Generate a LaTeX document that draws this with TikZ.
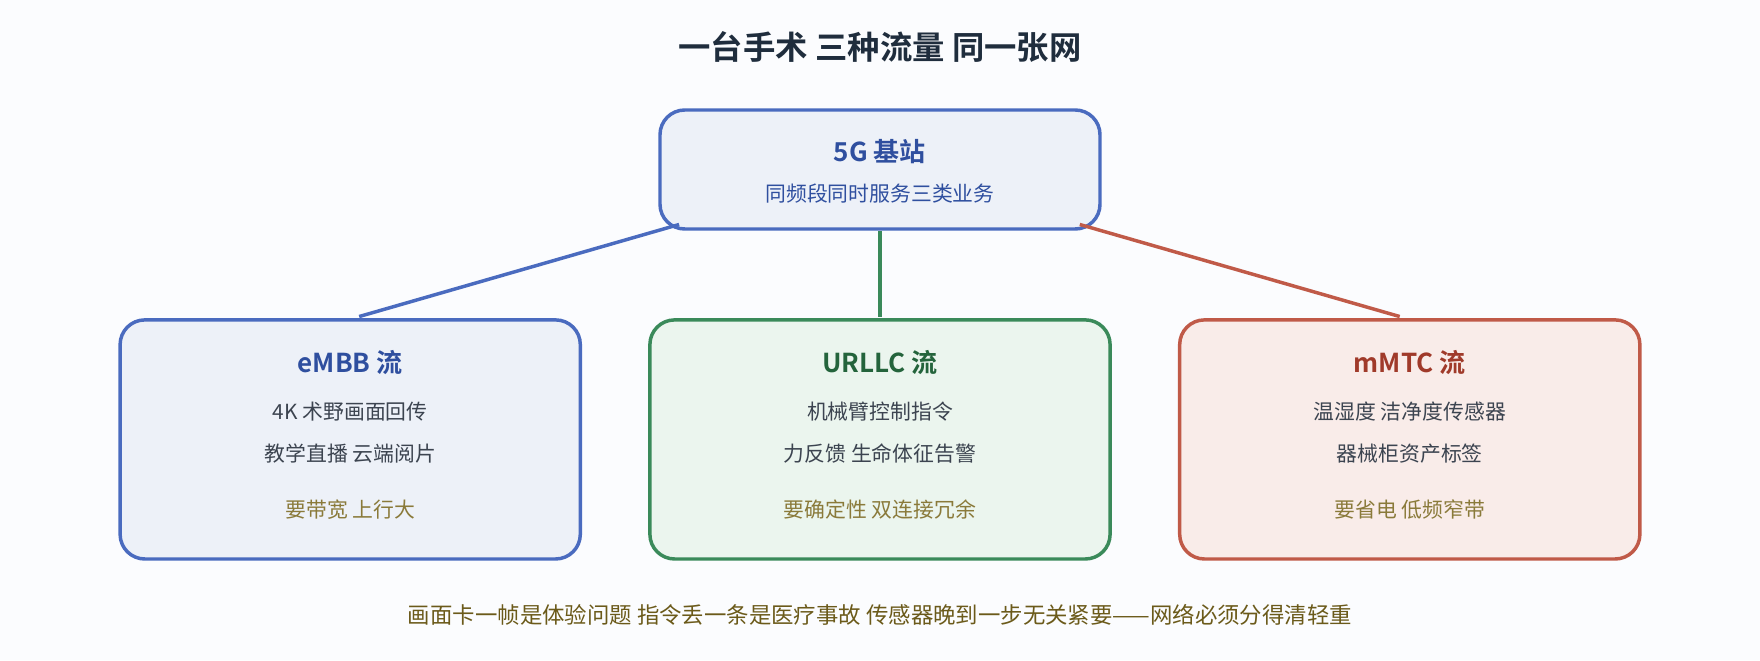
\documentclass[tikz,border=0pt]{standalone}
\usepackage{fontspec}
\setmainfont{Noto Sans CJK SC}[BoldFont={Noto Sans CJK SC Bold}]
\usetikzlibrary{positioning}
\definecolor{bgcol}{HTML}{FBFCFE}
\definecolor{titlecol}{HTML}{1F2D3D}
\definecolor{blueline}{HTML}{4A6BBF}
\definecolor{bluefill}{HTML}{EDF1F8}
\definecolor{bluetext}{HTML}{2F4F9F}
\definecolor{greenline}{HTML}{3A8A5A}
\definecolor{greenfill}{HTML}{EBF5EE}
\definecolor{greentext}{HTML}{24643C}
\definecolor{redline}{HTML}{C05A48}
\definecolor{redfill}{HTML}{F9ECE9}
\definecolor{redtext}{HTML}{A03A2A}
\definecolor{bodytext}{HTML}{3C4450}
\definecolor{notetext}{HTML}{8A7A3A}
\definecolor{foottext}{HTML}{6B5A1A}
\tikzset{
  box/.style={rounded corners=0.55cm, line width=2.2pt, inner sep=0pt},
  head/.style={font=\bfseries\fontsize{16.5}{19}\selectfont},
  body/.style={text=bodytext, font=\fontsize{13.2}{15}\selectfont},
  note/.style={text=notetext, font=\fontsize{13.2}{15}\selectfont},
  link/.style={line width=2.2pt}
}
\begin{document}
\begin{tikzpicture}[x=0.025cm,y=-0.025cm]
  \fill[bgcol] (0,0) rectangle (1568,588);
  \useasboundingbox (0,0) rectangle (1568,588);
  \node[text=titlecol, font=\bfseries\fontsize{20.5}{24}\selectfont] (title) at (784,42) {一台手术 三种流量 同一张网};
  % base station
  \draw[box, draw=blueline, fill=bluefill] (588,98) rectangle (980,204);
  \node[head, text=bluetext] (bs) at (784,135) {5G 基站};
  \node[text=bluetext, font=\fontsize{13.2}{15}\selectfont] (bssub) at (784,172) {同频段同时服务三类业务};
  \coordinate (bsL) at (605,200);
  \coordinate (bsM) at (784,206);
  \coordinate (bsR) at (962,200);
  % three flows
  \draw[box, draw=blueline, fill=bluefill] (107,285) rectangle (517,498);
  \draw[box, draw=greenline, fill=greenfill] (579,285) rectangle (989,498);
  \draw[box, draw=redline, fill=redfill] (1051,285) rectangle (1461,498);
  \coordinate (embbT) at (320,282);
  \coordinate (urllcT) at (784,282);
  \coordinate (mmtcT) at (1247,282);
  \node[head, text=bluetext] (embb) at (312,323) {eMBB 流};
  \node[body] (embb1) at (312,367) {4K 术野画面回传};
  \node[body] (embb2) at (312,404) {教学直播 云端阅片};
  \node[note] (embb3) at (312,454) {要带宽 上行大};
  \node[head, text=greentext] (urllc) at (784,323) {URLLC 流};
  \node[body] (urllc1) at (784,367) {机械臂控制指令};
  \node[body] (urllc2) at (784,404) {力反馈 生命体征告警};
  \node[note] (urllc3) at (784,454) {要确定性 双连接冗余};
  \node[head, text=redtext] (mmtc) at (1256,323) {mMTC 流};
  \node[body] (mmtc1) at (1256,367) {温湿度 洁净度传感器};
  \node[body] (mmtc2) at (1256,404) {器械柜资产标签};
  \node[note] (mmtc3) at (1256,454) {要省电 低频窄带};
  % links
  \draw[link, blueline] (embbT) -- (bsL);
  \draw[link, greenline] (urllcT) -- (bsM);
  \draw[link, redline] (mmtcT) -- (bsR);
  \node[text=foottext, font=\fontsize{14.2}{16}\selectfont] (foot) at (784,548) {画面卡一帧是体验问题 指令丢一条是医疗事故 传感器晚到一步无关紧要——网络必须分得清轻重};
\end{tikzpicture}
\end{document}
